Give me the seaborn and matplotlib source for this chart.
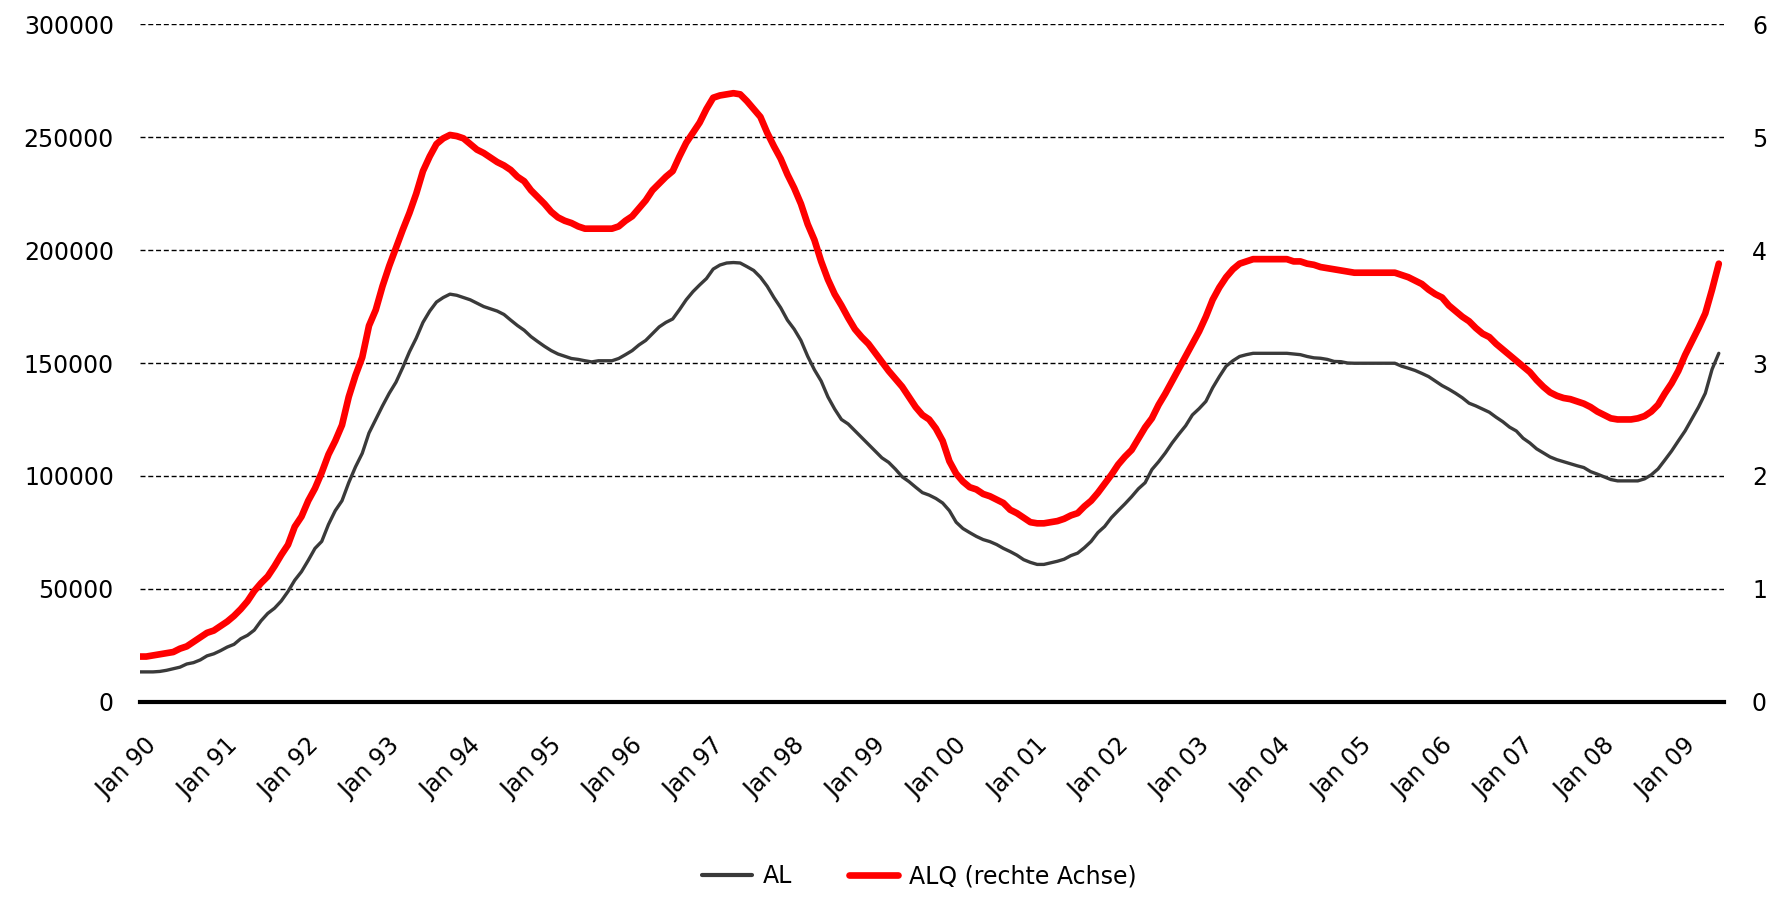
import numpy as np
import pandas as pd
import matplotlib
matplotlib.use("Agg")
import matplotlib.pyplot as plt
import matplotlib.transforms as mtransforms
from matplotlib.lines import Line2D
import seaborn as sns

# Arbeitslose (AL), monthly, Jan 1990 - Jul 2009
al = [
    13200, 13200, 13200, 13400, 13900, 14600, 15300, 16700, 17300, 18500, 20300, 21200,   # 1990
    22600, 24200, 25400, 27900, 29400, 31700, 35800, 39100, 41400, 44600, 48800, 53800,   # 1991
    57600, 62600, 67900, 71000, 78500, 84600, 89000, 97000, 104000, 110000, 119000, 125000,  # 1992
    131000, 136600, 141500, 148000, 155000, 161000, 168000, 173000, 177000, 179000, 180500, 180000,  # 1993
    179000, 178000, 176500, 175000, 174000, 173000, 171500, 169000, 166600, 164500, 161700, 159500,  # 1994
    157400, 155500, 154000, 153000, 152000, 151600, 151000, 150500, 151000, 151000, 151000, 152000,  # 1995
    153700, 155500, 158000, 160000, 163000, 166000, 168000, 169500, 173600, 178000, 181600, 184600,  # 1996
    187400, 191600, 193400, 194300, 194500, 194300, 192700, 191000, 188000, 184000, 179000, 174500,  # 1997
    169000, 165000, 160000, 153000, 147000, 142000, 135000, 129600, 125000, 123000, 120000, 117000,  # 1998
    114000, 111000, 108000, 106000, 103000, 99600, 97500, 95000, 92600, 91500, 90000, 88000,  # 1999
    84600, 79500, 76700, 74900, 73200, 71800, 70900, 69600, 67900, 66500, 64900, 62900,   # 2000
    61700, 60800, 60800, 61500, 62200, 63100, 64700, 65800, 68200, 71000, 74900, 77600,   # 2001
    81500, 84600, 87600, 90800, 94300, 97000, 102800, 106300, 110200, 114600, 118500, 122200,  # 2002
    127000, 129800, 133000, 139000, 144000, 148600, 151000, 152900, 153700, 154300, 154300, 154300,  # 2003
    154300, 154300, 154300, 154000, 153700, 152900, 152300, 152100, 151600, 150700, 150600, 150000,  # 2004
    149900, 149900, 149900, 149900, 149900, 149900, 149900, 148600, 147700, 146700, 145400, 144000,  # 2005
    142000, 140000, 138400, 136600, 134600, 132200, 131000, 129600, 128200, 126000, 124000, 121600,  # 2006
    119900, 116700, 114600, 112000, 110200, 108400, 107200, 106300, 105400, 104500, 103700, 101900,  # 2007
    100800, 99600, 98400, 97800, 97800, 97800, 97800, 98700, 100500, 103100, 107000, 111000,  # 2008
    115500, 119900, 125200, 130500, 136600, 147200, 154300,                                # 2009
]

# Arbeitslosenquote (ALQ) in %, monthly, Jan 1990 - Jul 2009
alq = [
    0.40, 0.40, 0.41, 0.42, 0.43, 0.44, 0.47, 0.49, 0.53, 0.57, 0.61, 0.63,   # 1990
    0.67, 0.71, 0.76, 0.82, 0.89, 0.98, 1.05, 1.11, 1.20, 1.30, 1.39, 1.55,   # 1991
    1.64, 1.78, 1.89, 2.03, 2.19, 2.31, 2.45, 2.70, 2.89, 3.05, 3.33, 3.47,   # 1992
    3.68, 3.86, 4.02, 4.18, 4.33, 4.50, 4.70, 4.83, 4.94, 4.99, 5.02, 5.01,   # 1993
    4.99, 4.94, 4.89, 4.86, 4.82, 4.78, 4.75, 4.71, 4.65, 4.61, 4.53, 4.47,   # 1994
    4.41, 4.34, 4.29, 4.26, 4.24, 4.21, 4.19, 4.19, 4.19, 4.19, 4.19, 4.21,   # 1995
    4.26, 4.30, 4.37, 4.44, 4.53, 4.59, 4.65, 4.70, 4.83, 4.95, 5.04, 5.13,   # 1996
    5.25, 5.35, 5.37, 5.38, 5.39, 5.38, 5.32, 5.25, 5.18, 5.04, 4.92, 4.81,   # 1997
    4.67, 4.55, 4.41, 4.23, 4.09, 3.90, 3.74, 3.61, 3.51, 3.40, 3.30, 3.23,   # 1998
    3.17, 3.09, 3.01, 2.93, 2.86, 2.79, 2.70, 2.61, 2.54, 2.50, 2.42, 2.31,   # 1999
    2.13, 2.02, 1.95, 1.90, 1.88, 1.84, 1.82, 1.79, 1.76, 1.70, 1.67, 1.63,   # 2000
    1.59, 1.58, 1.58, 1.59, 1.60, 1.62, 1.65, 1.67, 1.73, 1.78, 1.85, 1.93,   # 2001
    2.01, 2.10, 2.17, 2.23, 2.33, 2.43, 2.51, 2.63, 2.73, 2.84, 2.95, 3.06,   # 2002
    3.17, 3.28, 3.41, 3.56, 3.67, 3.76, 3.83, 3.88, 3.90, 3.92, 3.92, 3.92,   # 2003
    3.92, 3.92, 3.92, 3.90, 3.90, 3.88, 3.87, 3.85, 3.84, 3.83, 3.82, 3.81,   # 2004
    3.80, 3.80, 3.80, 3.80, 3.80, 3.80, 3.80, 3.78, 3.76, 3.73, 3.70, 3.65,   # 2005
    3.61, 3.58, 3.51, 3.46, 3.41, 3.37, 3.31, 3.26, 3.23, 3.17, 3.12, 3.07,   # 2006
    3.02, 2.97, 2.92, 2.85, 2.79, 2.74, 2.71, 2.69, 2.68, 2.66, 2.64, 2.61,   # 2007
    2.57, 2.54, 2.51, 2.50, 2.50, 2.50, 2.51, 2.53, 2.57, 2.63, 2.73, 2.82,   # 2008
    2.93, 3.07, 3.19, 3.31, 3.44, 3.65, 3.88,                                 # 2009
]

tick_labels = ["Jan 90", "Jan 91", "Jan 92", "Jan 93", "Jan 94", "Jan 95", "Jan 96",
               "Jan 97", "Jan 98", "Jan 99", "Jan 00", "Jan 01", "Jan 02", "Jan 03",
               "Jan 04", "Jan 05", "Jan 06", "Jan 07", "Jan 08", "Jan 09"]
series_labels = ["AL", "ALQ (rechte Achse)"]
left_ticks = [0, 50000, 100000, 150000, 200000, 250000, 300000]
right_ticks = [0, 1, 2, 3, 4, 5, 6]

months = np.arange(len(al))
df = pd.DataFrame({"Monat": months, "AL": al, "ALQ": alq})

sns.set_style("white")
plt.rcParams["font.family"] = ["DejaVu Sans"]
plt.rcParams["font.size"] = 17
plt.rcParams["text.color"] = "black"
plt.rcParams["xtick.color"] = "black"
plt.rcParams["ytick.color"] = "black"
plt.rcParams["axes.labelcolor"] = "black"

GREY = "#3a3a3a"
RED = "#ff0000"

fig = plt.figure(figsize=(17.75, 8.98), dpi=100)
ax = fig.add_axes([0.0786, 0.2186, 0.8924, 0.7543])
ax2 = ax.twinx()

sns.lineplot(data=df, x="Monat", y="AL", ax=ax, color=GREY, linewidth=2.4,
             legend=False, solid_capstyle="round")
sns.lineplot(data=df, x="Monat", y="ALQ", ax=ax2, color=RED, linewidth=4.8,
             legend=False, solid_capstyle="round")

ax.set_xlim(0, 234.7)
ax.set_ylim(0, 300000)
ax2.set_ylim(0, 6)

# dashed horizontal grid
ax.set_yticks(left_ticks)
ax.set_yticklabels([str(v) for v in left_ticks])
ax2.set_yticks(right_ticks)
ax2.set_yticklabels([str(v) for v in right_ticks])
ax.grid(axis="y", color="black", linestyle=(0, (3.6, 2.0)), linewidth=1.0)
ax.grid(axis="x", visible=False)
ax2.grid(False)

for a in (ax, ax2):
    for side in ("top", "left", "right"):
        a.spines[side].set_visible(False)
ax2.spines["bottom"].set_visible(False)
ax.spines["bottom"].set_linewidth(3.0)
ax.spines["bottom"].set_color("black")
ax.spines["bottom"].set_zorder(5)

ax.set_xticks(np.arange(0, len(tick_labels) * 12, 12))
ax.set_xticklabels(tick_labels, rotation=45, ha="right", va="center",
                   rotation_mode="anchor")
ax.tick_params(axis="x", direction="out", length=5, width=2, color="black",
               pad=24, labelsize=17, labelcolor="black")
offset = mtransforms.ScaledTranslation(10 / 72, 0, fig.dpi_scale_trans)
for lbl in ax.get_xticklabels():
    lbl.set_transform(lbl.get_transform() + offset)

ax.tick_params(axis="y", length=0, pad=18.5, labelsize=17, labelcolor="black")
ax2.tick_params(axis="y", length=0, pad=20.5, labelsize=17, labelcolor="black")
ax.set_xlabel("")
ax.set_ylabel("")
ax2.set_ylabel("")

handles = [Line2D([], [], color=GREY, linewidth=3.0),
           Line2D([], [], color=RED, linewidth=4.8)]
fig.legend(handles, series_labels, loc="center", bbox_to_anchor=(0.518, 0.024),
           ncol=2, frameon=False, fontsize=17, handlelength=2.1,
           handletextpad=0.45, columnspacing=2.4, labelcolor="black")

fig.savefig("out.png", dpi=100)
